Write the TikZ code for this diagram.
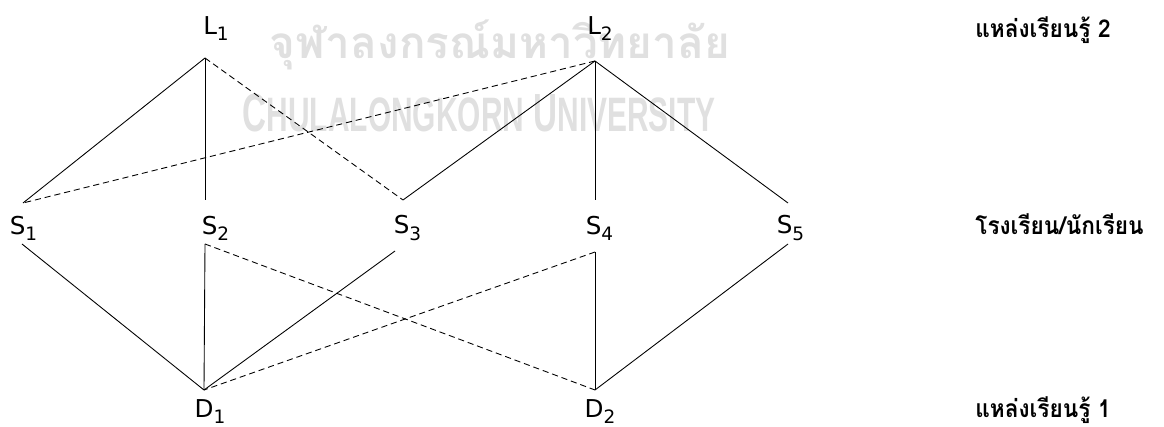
\documentclass[tikz,border=0pt]{standalone}
\usepackage{fontspec}
\setmainfont{DejaVu Sans}
\newfontfamily\thaifont[Script=Thai]{Loma}
\newfontfamily\markfont{Liberation Sans}
\usetikzlibrary{positioning}
\definecolor{markgray}{RGB}{224,224,224}
\newcommand{\lab}[2]{#1\raisebox{-0.45ex}{\fontsize{10.5}{10.5}\selectfont #2}}
\newcommand{\thaitext}[1]{\scalebox{0.92}[1]{#1}}

\begin{document}
\begin{tikzpicture}[
    lbl/.style={font=\fontsize{14}{14}\selectfont, inner sep=0pt},
    thai/.style={font=\thaifont\bfseries\fontsize{14}{14}\selectfont, anchor=west, inner sep=0pt},
    edge/.style={line width=0.5pt},
    link/.style={line width=0.5pt, dash pattern=on 3.5pt off 2.2pt}
]
\useasboundingbox (0,0) rectangle (23.28,8.54);
% Watermark
\node[markgray, inner sep=0pt] (wmth) at (10.0,7.64)
    {\resizebox{9.2cm}{!}{\thaifont\bfseries จุฬาลงกรณ์มหาวิทยาลัย}};
\node[markgray, inner sep=0pt] (wmen) at (9.58,6.28)
    {\resizebox{9.45cm}{0.75cm}{\markfont\bfseries C{\small HULALONGKORN} U{\small NIVERSITY}}};
% Junctions
\coordinate (L1) at (4.10,7.38);
\coordinate (L2) at (11.90,7.32);
\coordinate (S1t) at (0.46,4.48);
\coordinate (S1b) at (0.44,3.66);
\coordinate (S2t) at (4.10,4.54);
\coordinate (S2b) at (4.10,3.66);
\coordinate (S3t) at (8.06,4.54);
\coordinate (S3b) at (7.90,3.52);
\coordinate (S4t) at (11.90,4.54);
\coordinate (S4b) at (11.90,3.50);
\coordinate (S5t) at (15.76,4.48);
\coordinate (S5b) at (15.76,3.66);
\coordinate (D1) at (4.08,0.74);
\coordinate (D2) at (11.90,0.74);
% Labels
\node[lbl] (l1) at (4.32,7.96) {\lab{L}{1}};
\node[lbl] (l2) at (12.00,7.96) {\lab{L}{2}};
\node[lbl] (s1) at (0.47,3.98) {\lab{S}{1}};
\node[lbl] (s2) at (4.31,3.98) {\lab{S}{2}};
\node[lbl] (s3) at (8.15,3.98) {\lab{S}{3}};
\node[lbl] (s4) at (11.99,3.98) {\lab{S}{4}};
\node[lbl] (s5) at (15.81,3.98) {\lab{S}{5}};
\node[lbl] (d1) at (4.20,0.30) {\lab{D}{1}};
\node[lbl] (d2) at (12.00,0.30) {\lab{D}{2}};
\node[thai] (src2) at (19.5,7.94) {\thaitext{แหล่งเรียนรู้ 2}};
\node[thai] (school) at (19.5,4.06) {\thaitext{โรงเรียน/นักเรียน}};
\node[thai] (src1) at (19.5,0.34) {\thaitext{แหล่งเรียนรู้ 1}};
% Upper links
\draw[edge] (L1) -- (S1t);
\draw[edge] (L1) -- (S2t);
\draw[link] (L1) -- (S3t);
\draw[link] (L2) -- (S1t);
\draw[edge] (L2) -- (S3t);
\draw[edge] (L2) -- (S4t);
\draw[edge] (L2) -- (S5t);
% Lower links
\draw[edge] (S1b) -- (D1);
\draw[edge] (S2b) -- (D1);
\draw[edge] (S3b) -- (D1);
\draw[link] (S4b) -- (D1);
\draw[link] (S2b) -- (D2);
\draw[edge] (S4b) -- (D2);
\draw[edge] (S5b) -- (D2);
\end{tikzpicture}
\end{document}
